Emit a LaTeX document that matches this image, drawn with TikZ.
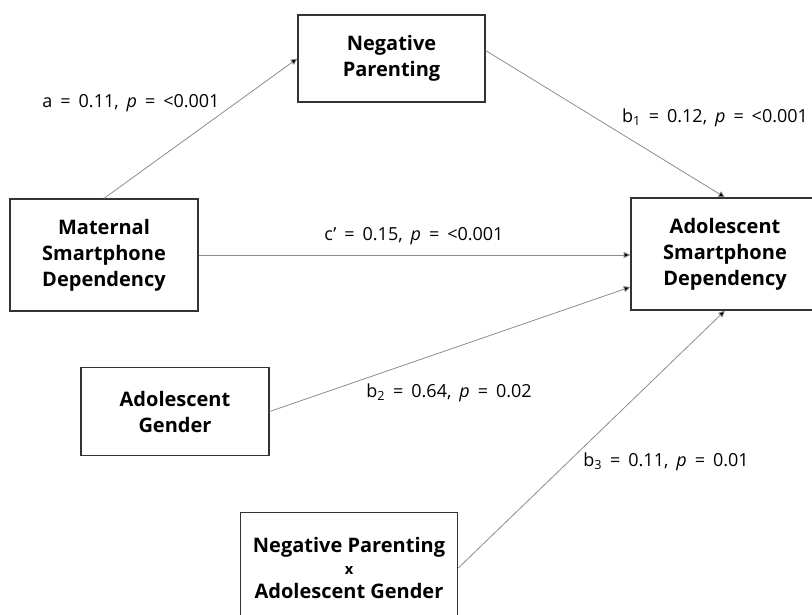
\documentclass[tikz,border=0pt]{standalone}
\usepackage{fontspec}
\setmainfont{Open Sans}
\newfontfamily\coeffont[WordSpace=1.7]{Open Sans}
\usetikzlibrary{arrows.meta}

\begin{document}
\begin{tikzpicture}[x=0.75pt, y=-0.75pt,
        var/.style={draw=black!80, line width=0.9pt, align=center, inner sep=0pt,
            font=\fontsize{15}{19.5}\selectfont\bfseries},
        effect/.style={draw=black!45, line width=0.6pt, -{Triangle[length=5pt, width=4.5pt, fill=black]}},
        coef/.style={font=\coeffont\fontsize{13.5}{16}\selectfont, inner sep=1pt}]
    \useasboundingbox (0,0) rectangle (812,614);
    % variables
    \node[var, minimum width=140.25pt, minimum height=65.25pt] (NP) at (391.5,58.5) {Negative\\Parenting};
    \node[var, minimum width=141pt, minimum height=84pt] (MSD) at (104,255) {Maternal\\Smartphone\\Dependency};
    \node[var, minimum width=141pt, minimum height=84pt] (ASD) at (725,254) {Adolescent\\Smartphone\\Dependency};
    \node[var, minimum width=141pt, minimum height=66pt] (AG) at (175,411.5) {Adolescent\\Gender};
    \node[var, minimum width=163pt, minimum height=83pt] (NPAG) at (349,568) {Negative Parenting\\[-3pt]{\fontsize{11}{12}\selectfont x}\\[-2pt]Adolescent Gender};
    % paths
    \draw[effect] (MSD.north) -- (NP.west);
    \draw[effect] ([yshift=6pt]NP.east) -- (ASD.north);
    \draw[effect] (MSD.east) -- (MSD.east -| ASD.west);
    \draw[effect] (AG.east) -- ([yshift=-24.75pt]ASD.west);
    \draw[effect] (NPAG.east) -- (ASD.south);
    % coefficients
    \node[coef] (a) at (131,103) {a = 0.11, \textit{p} = <0.001};
    \node[coef] (b1) at (715,118) {b\textsubscript{1} = 0.12, \textit{p} = <0.001};
    \node[coef] (c) at (414,236) {c’ = 0.15, \textit{p} = <0.001};
    \node[coef] (b2) at (449,393) {b\textsubscript{2} = 0.64, \textit{p} = 0.02};
    \node[coef] (b3) at (666,462) {b\textsubscript{3} = 0.11, \textit{p} = 0.01};
\end{tikzpicture}
\end{document}
